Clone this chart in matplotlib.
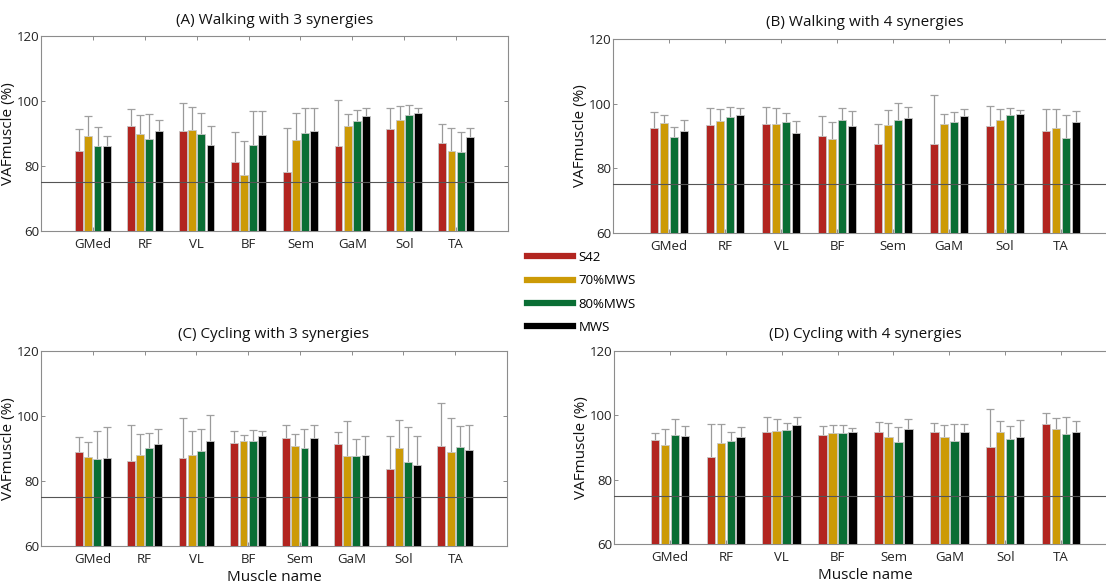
import numpy as np
import matplotlib
matplotlib.use("Agg")
import matplotlib.pyplot as plt
from matplotlib.lines import Line2D

plt.rcParams['font.family'] = ['Open Sans', 'DejaVu Sans']

muscles = ['GMed', 'RF', 'VL', 'BF', 'Sem', 'GaM', 'Sol', 'TA']
conditions = ['S42', '70%MWS', '80%MWS', 'MWS']
colors = ['#b22520', '#cc9a06', '#0a6e34', '#000000']

# (A) walking, 3 synergies  - means and SD
walk3_mean = [
    [84.6, 92.4, 90.9, 81.2, 78.2, 86.0, 91.4, 87.1],
    [89.1, 89.7, 91.2, 77.3, 88.1, 92.4, 94.1, 84.7],
    [86.3, 88.4, 89.8, 86.6, 90.2, 93.9, 95.8, 84.4],
    [86.0, 90.8, 86.6, 89.4, 90.9, 95.5, 96.2, 88.9],
]
walk3_sd = [
    [6.9, 5.0, 8.5, 9.3, 13.6, 14.3, 6.6, 5.9],
    [6.4, 6.0, 7.0, 10.5, 8.2, 3.7, 4.3, 7.0],
    [5.8, 7.6, 6.6, 10.2, 7.5, 3.3, 3.0, 6.1],
    [3.1, 3.5, 5.8, 7.4, 7.0, 2.2, 1.8, 2.9],
]

# (B) walking, 4 synergies
walk4_mean = [
    [92.4, 93.4, 93.7, 90.1, 87.6, 87.4, 93.1, 91.4],
    [94.0, 94.6, 93.7, 89.1, 93.4, 93.8, 94.9, 92.5],
    [89.7, 95.9, 94.4, 94.8, 94.8, 94.3, 96.6, 89.3],
    [91.5, 96.6, 90.8, 93.1, 95.6, 96.3, 96.8, 94.3],
]
walk4_sd = [
    [4.9, 5.2, 5.2, 6.0, 6.0, 15.2, 6.2, 7.0],
    [2.4, 3.8, 4.9, 5.1, 4.7, 3.1, 3.5, 5.9],
    [3.1, 3.1, 2.6, 4.0, 5.3, 3.0, 2.0, 7.1],
    [3.3, 2.2, 3.7, 4.5, 3.3, 2.1, 1.1, 3.4],
]

# (C) cycling, 3 synergies
cyc3_mean = [
    [89.0, 86.3, 87.2, 91.7, 93.1, 91.4, 83.6, 90.9],
    [87.4, 88.1, 87.9, 92.2, 90.8, 87.6, 90.2, 88.8],
    [86.9, 90.2, 89.3, 92.4, 90.2, 87.6, 85.7, 90.4],
    [87.2, 91.3, 92.2, 94.0, 93.3, 88.1, 84.8, 89.5],
]
cyc3_sd = [
    [4.5, 11.0, 12.3, 3.8, 4.0, 3.6, 10.2, 13.0],
    [4.6, 6.4, 7.6, 2.0, 3.7, 10.9, 8.7, 10.6],
    [8.6, 4.6, 6.8, 3.3, 5.9, 5.2, 10.9, 6.4],
    [9.3, 4.8, 8.2, 1.5, 4.0, 5.7, 9.2, 7.6],
]

# (D) cycling, 4 synergies
cyc4_mean = [
    [92.3, 87.2, 94.9, 93.9, 94.9, 94.9, 90.3, 97.4],
    [90.7, 91.3, 95.2, 94.4, 93.3, 93.2, 94.9, 95.6],
    [93.9, 92.1, 95.5, 94.5, 91.8, 92.0, 92.6, 94.3],
    [93.5, 93.4, 97.0, 94.7, 95.8, 94.8, 93.2, 94.8],
]
cyc4_sd = [
    [2.1, 10.2, 4.7, 2.8, 3.1, 2.8, 11.6, 3.4],
    [5.0, 6.1, 3.7, 2.7, 4.3, 3.8, 3.4, 3.7],
    [5.0, 2.8, 2.2, 2.6, 4.7, 5.4, 4.1, 5.3],
    [3.1, 3.1, 2.6, 1.5, 3.2, 2.6, 5.2, 3.4],
]

titles = ['(A) Walking with 3 synergies', '(B) Walking with 4 synergies',
          '(C) Cycling with 3 synergies', '(D) Cycling with 4 synergies']
threshold = 75

W, H = 1106, 585
fig = plt.figure(figsize=(W / 100, H / 100), dpi=100)

# axes boxes in pixels: left, top, right, bottom
boxes = [(41, 36, 508, 231), (613, 39, 1117, 233),
         (41, 351, 507, 546), (614, 351, 1117, 544)]
panels = [(walk3_mean, walk3_sd), (walk4_mean, walk4_sd),
          (cyc3_mean, cyc3_sd), (cyc4_mean, cyc4_sd)]

x = np.arange(1, len(muscles) + 1)
offsets = [-0.267, -0.089, 0.089, 0.267]
bw = 0.152
grey = '#8c8c8c'

for k, (box, (means, sds)) in enumerate(zip(boxes, panels)):
    l, t, r, b = box
    ax = fig.add_axes([l / W, 1 - b / H, (r - l) / W, (b - t) / H])
    for j in range(len(conditions)):
        m = np.array(means[j])
        s = np.array(sds[j])
        xs = x + offsets[j]
        ax.vlines(xs, m, m + s, color='#9a9a9a', lw=0.9, zorder=2)
        ax.plot(xs, m + s, ls='none', marker='_', ms=6, mew=0.9,
                color='#a0a0a0', zorder=2)
        ax.bar(xs, m - 60, bw, bottom=60, color=colors[j],
               edgecolor='#c8c8c8', linewidth=0.6, zorder=3)
    ax.axhline(threshold, color='#555555', lw=0.8, zorder=4)
    ax.set_xlim(0, 9)
    ax.set_ylim(60, 120)
    ax.set_xticks(x)
    ax.set_xticklabels(muscles)
    ax.set_yticks([60, 80, 100, 120])
    ax.tick_params(direction='in', length=3, width=0.7, color=grey,
                   labelsize=9.5, labelcolor='#222222', top=True, right=True)
    ax.tick_params(axis='y', pad=1)
    ax.tick_params(axis='x', pad=5)
    for sp in ax.spines.values():
        sp.set_color(grey)
        sp.set_linewidth(0.8)
    ax.set_ylabel('VAFmuscle (%)', fontsize=11, labelpad=0.5, color='#111111')
    ax.set_title(titles[k], fontsize=11, pad=9, color='#111111')
    if k >= 2:
        ax.set_xlabel('Muscle name', fontsize=11, labelpad=3, color='#111111')

handles = [Line2D([], [], color=c, lw=4.5) for c in colors]
fig.legend(handles, conditions, loc='upper left',
           bbox_to_anchor=(527 / W, 1 - 251 / H), frameon=False,
           fontsize=9.5, handlelength=3.5, handletextpad=0.4,
           labelspacing=0.78, borderpad=0, borderaxespad=0)

fig.savefig('out.png', dpi=100)
